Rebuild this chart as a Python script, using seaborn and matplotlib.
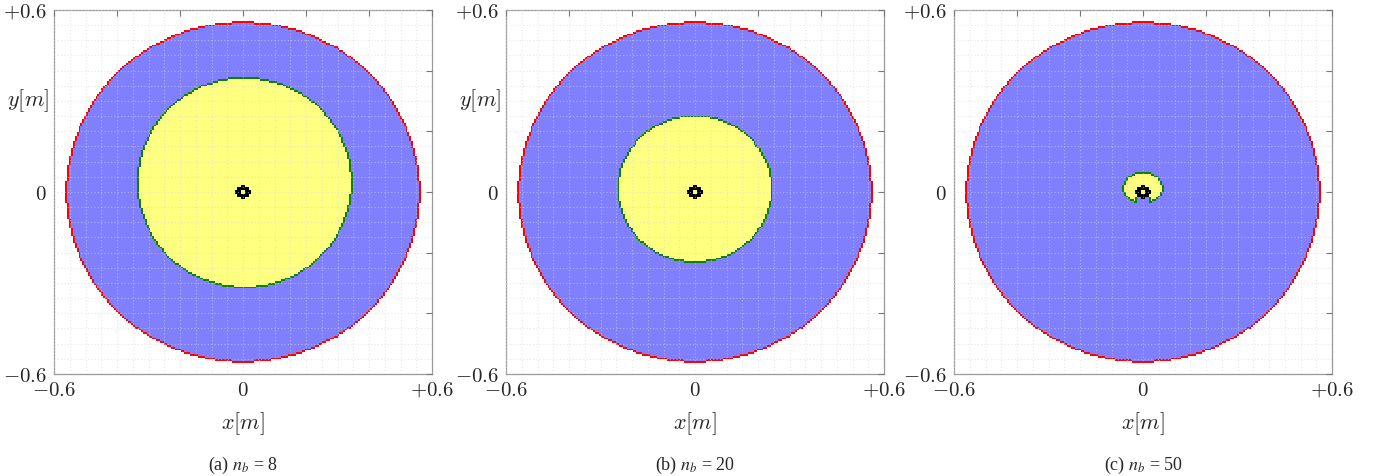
import numpy as np
import matplotlib.pyplot as plt
import seaborn as sns
from matplotlib.colors import ListedColormap

# values
panels = ["(a)", "(b)", "(c)"]
n_b = [8, 20, 50]
outer_radius = [0.562, 0.562, 0.562]      # blue disc (red rim)
inner_rx = [0.342, 0.246, 0.065]          # yellow region (green rim)
inner_ry = [0.348, 0.244, 0.052]
inner_cx = [0.005, 0.0, 0.0]
inner_cy = [0.031, 0.01, 0.014]
inner_dent = [0.0, 0.0, 0.018]            # notch at the bottom of the small region in (c)
ring_r = (0.007, 0.022)                   # black ring at the origin
show_ylabel = [True, True, False]

colors = ["#8080ff", "#ffff80", "#ff0000", "#0a820a", "#000000"]
tick_vals = [-0.6, -0.4, -0.2, 0.0, 0.2, 0.4, 0.6]
tick_text = ["$-0.6$", "", "", "$0$", "", "", "$+0.6$"]

lo, hi, step = -0.6, 0.6, 0.006
centers = np.arange(lo + step / 2, hi, step)
X, Y = np.meshgrid(centers, centers)
R = np.hypot(X, Y)


def edge_of(mask):
    # cells of mask that touch a cell outside it
    out = ~mask
    nb = np.roll(out, 1, 0) | np.roll(out, -1, 0) | np.roll(out, 1, 1) | np.roll(out, -1, 1)
    return mask & nb


def region_map(i):
    z = np.full(R.shape, np.nan)
    blue = R <= outer_radius[i]
    yel = (((X - inner_cx[i]) / inner_rx[i]) ** 2 + ((Y - inner_cy[i]) / inner_ry[i]) ** 2) <= 1
    d = inner_dent[i]
    if d > 0:
        bottom = inner_cy[i] - inner_ry[i]
        yel &= ~((Y < bottom + d) & (np.abs(X - inner_cx[i]) < d))
    z[blue] = 0
    z[yel] = 1
    z[edge_of(blue)] = 2
    z[edge_of(yel)] = 3
    z[(R >= ring_r[0]) & (R <= ring_r[1])] = 4
    return z


def pos(v):
    return (np.asarray(v) - lo) / step


sns.set_style("white")
plt.rcParams["mathtext.fontset"] = "cm"
plt.rcParams["font.family"] = ["DejaVu Serif"]

fig = plt.figure(figsize=(13.79, 4.76), dpi=100)
lefts = [54, 506, 954]
cmap = ListedColormap(colors)

for i in range(3):
    ax = fig.add_axes([lefts[i] / 1379, (476 - 374) / 476, 378 / 1379, 364 / 476])
    sns.heatmap(region_map(i), ax=ax, cmap=cmap, vmin=-0.5, vmax=4.5,
                cbar=False, xticklabels=False, yticklabels=False)
    ax.invert_yaxis()

    ax.set_xticks(pos(tick_vals))
    ax.set_yticks(pos(tick_vals))
    ax.set_xticklabels(tick_text, fontsize=15)
    ax.set_yticklabels(tick_text, fontsize=15, rotation=0)
    ax.set_xticks(pos(np.arange(-0.6, 0.61, 0.05)), minor=True)
    ax.set_yticks(pos(np.arange(-0.6, 0.61, 0.05)), minor=True)
    ax.tick_params(which="major", direction="in", length=4, width=0.8,
                   color="#777777", top=True, right=True, pad=5)
    ax.tick_params(which="minor", length=0)
    ax.grid(True, which="both", color="#d8d8d8", linestyle=(0, (1, 2)),
            linewidth=0.8, alpha=0.6)
    ax.set_axisbelow(False)
    ax.set_xlim(0, len(centers))
    ax.set_ylim(0, len(centers))

    for s in ax.spines.values():
        s.set_visible(True)
        s.set_color("#999999")
        s.set_linewidth(0.9)

    ax.set_xlabel("$x[m]$", fontsize=16, va="center")
    ax.xaxis.set_label_coords(0.5, -0.135)
    if show_ylabel[i]:
        ax.set_ylabel("$y[m]$", fontsize=16, rotation=0, va="center", ha="center")
        ax.yaxis.set_label_coords(-0.07, 0.75)
    else:
        ax.set_ylabel("")

    ax.text(0.5, -0.25, f"{panels[i]} $n_b$ = {n_b[i]}", transform=ax.transAxes,
            ha="center", va="center", fontsize=13,
            family="Liberation Serif", math_fontfamily="stix")

fig.savefig("out.png", dpi=100)
